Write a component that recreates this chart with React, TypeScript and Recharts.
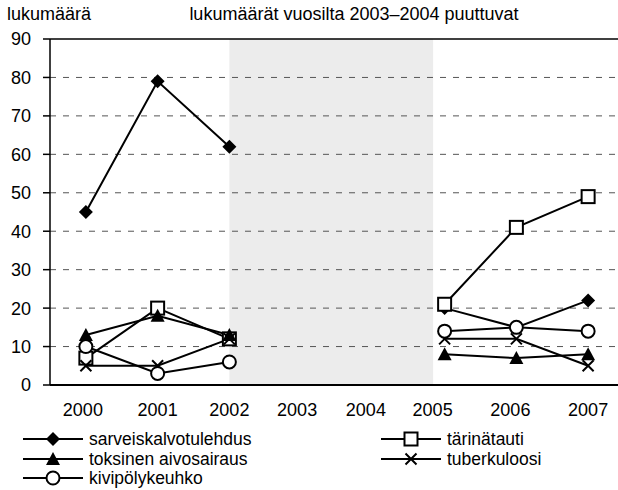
import React from "react"
import { LineChart, Line, XAxis, YAxis, ReferenceArea, ReferenceLine } from "recharts"

const years = [2000, 2001, 2002, 2003, 2004, 2005, 2006, 2007]
const sarveiskalvotulehdus = [45, 79, 62, null, null, 20, 15, 22]
const tarinatauti = [7, 20, 12, null, null, 21, 41, 49]
const toksinenAivosairaus = [13, 18, 13, null, null, 8, 7, 8]
const tuberkuloosi = [5, 5, 12, null, null, 12, 12, 5]
const kivipolykeuhko = [10, 3, 6, null, null, 14, 15, 14]

const yTicks = [0, 10, 20, 30, 40, 50, 60, 70, 80, 90]
const gridValues = [10, 20, 30, 40, 50, 60, 70, 80]
const missingFrom = 2002
const missingTo = 2004.84

const FONT = '"Liberation Sans", Arial, sans-serif'

// the original's year labels sit a little left of their points in places
const labelNudge: Record<number, number> = { 2000: -3, 2003: -4, 2004: -7, 2005: -12, 2006: -6 }

const data = years.map((year, i) => ({
  year,
  sarveis: sarveiskalvotulehdus[i],
  tarina: tarinatauti[i],
  toksinen: toksinenAivosairaus[i],
  tuberk: tuberkuloosi[i],
  kivi: kivipolykeuhko[i],
}))

type Shape = "diamond" | "square" | "triangle" | "cross" | "circle"

function Marker({ shape, x, y }: { shape: Shape; x: number; y: number }) {
  switch (shape) {
    case "diamond":
      return <path d={`M${x},${y - 7}L${x + 7},${y}L${x},${y + 7}L${x - 7},${y}Z`} fill="#000" />
    case "square":
      return <rect x={x - 6.5} y={y - 6.5} width={13} height={13} fill="#fff" stroke="#000" strokeWidth={2} />
    case "triangle":
      return <path d={`M${x},${y - 7}L${x + 7},${y + 6}L${x - 7},${y + 6}Z`} fill="#000" />
    case "cross":
      return (
        <path d={`M${x - 5.5},${y - 5.5}L${x + 5.5},${y + 5.5}M${x + 5.5},${y - 5.5}L${x - 5.5},${y + 5.5}`}
          stroke="#000" strokeWidth={2} />
      )
    case "circle":
      return <circle cx={x} cy={y} r={6.5} fill="#fff" stroke="#000" strokeWidth={2} />
  }
}

const dotFor = (shape: Shape) => (props: any) => {
  const { cx, cy, value, index } = props
  if (value == null || cx == null || cy == null) return <g key={index} />
  return <g key={index}><Marker shape={shape} x={cx} y={cy} /></g>
}

function YearTick(props: any) {
  const { x, y, payload } = props
  const dx = labelNudge[payload.value] ?? 0
  return (
    <text x={x + dx} y={y} dy="0.71em" textAnchor="middle" fontSize={18} fill="#000" fontFamily={FONT}>
      {payload.value}
    </text>
  )
}

const series: { key: string; name: string; shape: Shape }[] = [
  { key: "sarveis", name: "sarveiskalvotulehdus", shape: "diamond" },
  { key: "tarina", name: "tärinätauti", shape: "square" },
  { key: "toksinen", name: "toksinen aivosairaus", shape: "triangle" },
  { key: "tuberk", name: "tuberkuloosi", shape: "cross" },
  { key: "kivi", name: "kivipölykeuhko", shape: "circle" },
]

// legend laid out in two columns like the original
const legendSlots = [
  { x: 23, y: 439 },
  { x: 381, y: 439 },
  { x: 23, y: 459 },
  { x: 381, y: 459 },
  { x: 23, y: 478 },
]

export default function App() {
  return (
    <div style={{ position: "relative", width: 618, height: 490, overflow: "hidden", fontFamily: FONT }}>
      <style>{`body{margin:0}`}</style>
      <LineChart width={640} height={425} data={data} margin={{ top: 39, right: 16, left: 0, bottom: 0 }}>
        <ReferenceArea x1={missingFrom} x2={missingTo} y1={0} y2={90} fill="#ececec" fillOpacity={1} stroke="none" />
        {gridValues.map((v) => (
          <ReferenceLine key={v} y={v} stroke="#555" strokeWidth={1} strokeDasharray="6 7" />
        ))}
        <ReferenceLine y={90} stroke="#000" strokeWidth={1.5} />
        <XAxis
          dataKey="year"
          type="number"
          domain={[1999.5, 2007.5]}
          ticks={years}
          height={40}
          tickLine={false}
          tickSize={0}
          tickMargin={18}
          axisLine={{ stroke: "#000", strokeWidth: 2 }}
          tick={<YearTick />}
        />
        <YAxis
          domain={[0, 90]}
          ticks={yTicks}
          width={50}
          tickSize={7}
          tickMargin={12}
          axisLine={{ stroke: "#000", strokeWidth: 1.5 }}
          tickLine={{ stroke: "#000", strokeWidth: 1.5 }}
          tick={{ fontSize: 18, fill: "#000", fontFamily: FONT }}
        />
        {series.map((s) => (
          <Line
            key={s.key}
            dataKey={s.key}
            name={s.name}
            stroke="#000"
            strokeWidth={2}
            dot={dotFor(s.shape)}
            activeDot={false}
            connectNulls={false}
            isAnimationActive={false}
          />
        ))}
      </LineChart>
      <svg width={618} height={490} style={{ position: "absolute", left: 0, top: 0, pointerEvents: "none" }}>
        <text x={7} y={20} fontSize={18} fill="#000" fontFamily={FONT}>lukumäärä</text>
        <text x={354} y={20} fontSize={18} fill="#000" fontFamily={FONT} textAnchor="middle">
          lukumäärät vuosilta 2003–2004 puuttuvat
        </text>
        {series.map((s, i) => {
          const slot = legendSlots[i]
          return (
            <g key={s.key}>
              <line x1={slot.x} x2={slot.x + 60} y1={slot.y} y2={slot.y} stroke="#000" strokeWidth={2} />
              <Marker shape={s.shape} x={slot.x + 30} y={slot.y} />
              <text x={slot.x + 66} y={slot.y + 6} fontSize={17.5} fill="#000" fontFamily={FONT}>{s.name}</text>
            </g>
          )
        })}
      </svg>
    </div>
  )
}
